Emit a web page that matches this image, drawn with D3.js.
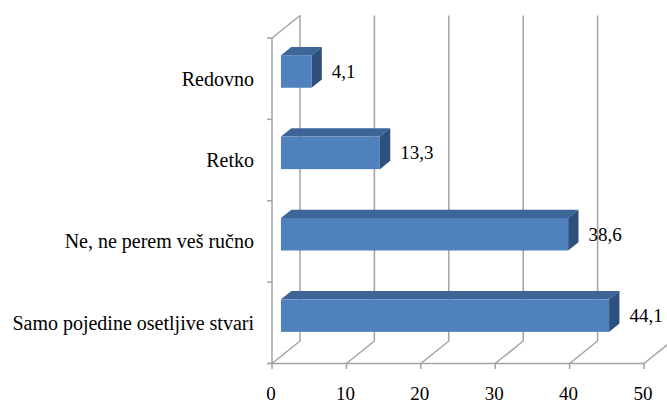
<!DOCTYPE html>
<html>
<head>
<meta charset="utf-8">
<script src="https://cdn.jsdelivr.net/npm/d3@7/dist/d3.min.js"></script>
<style>
  html, body { margin: 0; padding: 0; background: #fff; }
  svg { display: block; }
</style>
</head>
<body>
<script>
// chart data
var categories = ["Redovno", "Retko", "Ne, ne perem veš ručno", "Samo pojedine osetljive stvari"];
var values = [4.1, 13.3, 38.6, 44.1];
var valueLabels = ["4,1", "13,3", "38,6", "44,1"];
var xTicks = [0, 10, 20, 30, 40, 50];

var width = 667,
    height = 401;

// front plane of the plot
var plotLeft = 272, plotRight = 644, plotTop = 38, plotBottom = 363.5;
// 3d depth vector (front -> back)
var depthX = 28, depthY = -22.5;
// bar sits between these depth fractions
var barFront = 0.32, barBack = 0.69;

var gridColor = "#a3a3a3";
var serif = "'Liberation Serif', 'Times New Roman', Times, serif";

var svg = d3.select("body").append("svg")
    .attr("width", width)
    .attr("height", height)
    .style("font-family", serif);

svg.append("rect").attr("width", width).attr("height", height).attr("fill", "#fff");

var x = d3.scaleLinear().domain([0, 50]).range([plotLeft, plotRight]);
var y = d3.scaleBand().domain(categories).range([plotTop, plotBottom])
    .paddingInner(0.6).paddingOuter(0.3);
var yBand = d3.scaleBand().domain(categories).range([plotTop, plotBottom]);

// back wall gridlines
svg.selectAll(".grid")
    .data(xTicks.filter(function(t) { return x(t) + depthX < width; }))
    .enter().append("line")
    .attr("x1", function(d) { return x(d) + depthX; })
    .attr("x2", function(d) { return x(d) + depthX; })
    .attr("y1", plotTop + depthY)
    .attr("y2", plotBottom + depthY)
    .attr("stroke", gridColor)
    .attr("stroke-width", 1.5);

// floor lines
svg.selectAll(".floor")
    .data(xTicks)
    .enter().append("line")
    .attr("x1", function(d) { return x(d); })
    .attr("y1", plotBottom)
    .attr("x2", function(d) { return x(d) + depthX; })
    .attr("y2", plotBottom + depthY)
    .attr("stroke", gridColor)
    .attr("stroke-width", 1.5);

// left wall
svg.append("path")
    .attr("d", "M" + plotLeft + "," + plotBottom + "V" + plotTop +
        "L" + (plotLeft + depthX) + "," + (plotTop + depthY))
    .attr("fill", "none")
    .attr("stroke", gridColor)
    .attr("stroke-width", 1.5);

// left axis ticks at band edges
var edges = categories.map(function(c) { return yBand(c); }).concat([plotBottom]);
svg.selectAll(".ytick")
    .data(edges)
    .enter().append("line")
    .attr("x1", plotLeft - 5).attr("x2", plotLeft)
    .attr("y1", function(d) { return d; })
    .attr("y2", function(d) { return d; })
    .attr("stroke", gridColor)
    .attr("stroke-width", 1.5);

// bottom axis
svg.append("line")
    .attr("x1", plotLeft - 4).attr("x2", plotRight + 1)
    .attr("y1", plotBottom).attr("y2", plotBottom)
    .attr("stroke", gridColor)
    .attr("stroke-width", 1.5);

svg.selectAll(".xtick")
    .data(xTicks)
    .enter().append("line")
    .attr("x1", function(d) { return x(d); })
    .attr("x2", function(d) { return x(d); })
    .attr("y1", plotBottom).attr("y2", plotBottom + 5.5)
    .attr("stroke", gridColor)
    .attr("stroke-width", 1.5);

svg.selectAll(".xlabel")
    .data(xTicks)
    .enter().append("text")
    .attr("x", function(d) { return x(d) - 1; })
    .attr("y", 400)
    .attr("text-anchor", "middle")
    .style("font-size", "19px")
    .text(function(d) { return d; });

// category labels
svg.selectAll(".ylabel")
    .data(categories)
    .enter().append("text")
    .attr("x", 254)
    .attr("y", function(d) { return yBand(d) + yBand.bandwidth() / 2 + 7; })
    .attr("text-anchor", "end")
    .style("font-size", "20px")
    .text(function(d) { return d; });

// bars
var fx = depthX * barFront, fy = depthY * barFront;
var bx = depthX * (barBack - barFront), by = depthY * (barBack - barFront);

var bars = svg.selectAll(".bar")
    .data(values)
    .enter().append("g")
    .attr("class", "bar");

function frontX0() { return x(0) + fx; }
function frontX1(d) { return x(d) + fx; }
function frontY0(d, i) { return y(categories[i]) + fy; }
function frontY1(d, i) { return y(categories[i]) + y.bandwidth() + fy; }

// top face
bars.append("path")
    .attr("d", function(d, i) {
        var x0 = frontX0(), x1 = frontX1(d), y0 = frontY0(d, i);
        return "M" + x0 + "," + y0 + "L" + (x0 + bx) + "," + (y0 + by) +
            "L" + (x1 + bx) + "," + (y0 + by) + "L" + x1 + "," + y0 + "Z";
    })
    .attr("fill", "#3d6598");

// side face
bars.append("path")
    .attr("d", function(d, i) {
        var x1 = frontX1(d), y0 = frontY0(d, i), y1 = frontY1(d, i);
        return "M" + x1 + "," + y0 + "L" + (x1 + bx) + "," + (y0 + by) +
            "L" + (x1 + bx) + "," + (y1 + by) + "L" + x1 + "," + y1 + "Z";
    })
    .attr("fill", "#2e507c");

// front face
bars.append("rect")
    .attr("x", frontX0)
    .attr("y", frontY0)
    .attr("width", function(d) { return x(d) - x(0); })
    .attr("height", y.bandwidth())
    .attr("fill", "#4f81bd");

// value labels
bars.append("text")
    .attr("x", function(d) { return frontX1(d) + bx + 10; })
    .attr("y", function(d, i) { return frontY0(d, i) + y.bandwidth() / 2 + 6.5; })
    .style("font-size", "19px")
    .text(function(d, i) { return valueLabels[i]; });
</script>
</body>
</html>
